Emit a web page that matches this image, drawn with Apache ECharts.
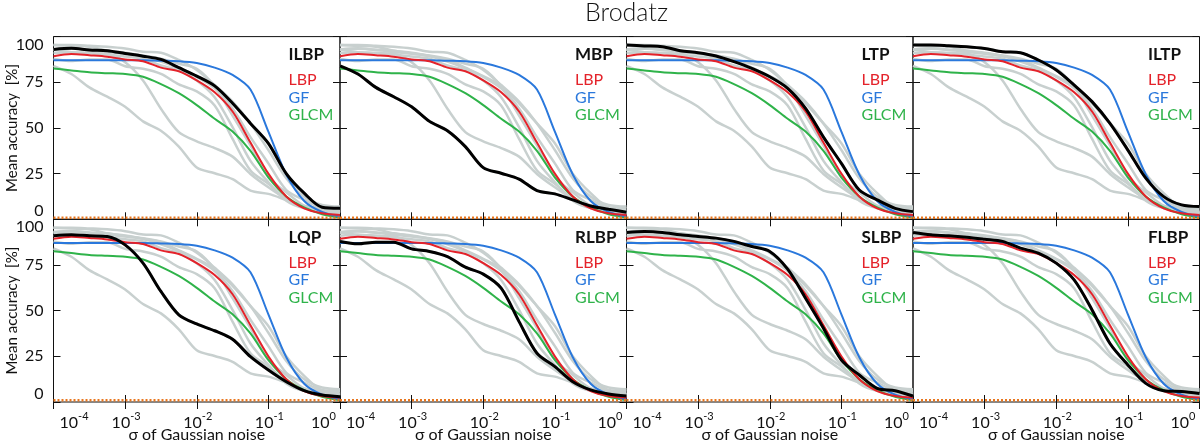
<!DOCTYPE html>
<html><head><meta charset="utf-8">
<script src="https://cdn.jsdelivr.net/npm/echarts@6/dist/echarts.min.js"></script>
<style>html,body{margin:0;padding:0;background:#fff}#c{width:1200px;height:441px}</style>
</head><body><div id="c"></div>
<script>
// sigma of Gaussian noise (x positions, log-spaced)
const sigma = [1e-4, 1.778e-4, 3.162e-4, 5.623e-4, 1e-3, 1.778e-3, 3.162e-3, 5.623e-3,
               1e-2, 1.778e-2, 3.162e-2, 5.623e-2, 1e-1, 0.1778, 0.3162, 0.5623, 1];
// reference methods (same in every panel)
const LBP  = [89.3, 90.5, 89.8, 89.0, 87.5, 86.5, 83.0, 81.0, 76.0, 69.5, 59.0, 42.0, 25.0, 12.5, 6.0, 3.3, 2.4];
const GF   = [87.0, 87.0, 87.0, 87.0, 87.0, 87.0, 86.8, 86.5, 85.5, 83.0, 79.0, 71.0, 48.0, 24.5, 10.0, 4.0, 1.5];
const GLCM = [82.5, 81.5, 80.5, 80.0, 79.5, 78.0, 74.0, 69.0, 62.5, 55.0, 48.0, 37.5, 23.0, 12.5, 6.5, 2.8, 1.0];
// highlighted methods
const ILBP = [93.0, 93.6, 92.7, 92.3, 90.8, 89.3, 87.5, 83.0, 78.4, 73.0, 63.5, 52.5, 41.6, 25.0, 14.3, 6.6, 6.0];
const MBP  = [84.0, 79.5, 72.2, 67.1, 61.6, 53.6, 48.5, 39.8, 28.3, 25.2, 22.0, 15.7, 13.9, 10.6, 7.3, 5.5, 3.9];
const LTP  = [95.4, 94.9, 94.5, 92.3, 91.2, 89.4, 86.3, 82.6, 78.0, 71.7, 60.7, 45.0, 30.6, 16.0, 10.6, 6.0, 4.2];
const ILTP = [95.4, 95.4, 95.0, 94.5, 93.5, 91.7, 91.2, 87.2, 81.7, 73.5, 64.4, 52.5, 37.9, 22.5, 12.4, 7.9, 7.0];
const LQP  = [91.0, 91.5, 91.0, 90.6, 86.0, 76.0, 60.5, 47.7, 42.7, 39.0, 34.3, 24.8, 17.5, 11.1, 6.2, 3.8, 2.9];
const RLBP = [87.9, 86.6, 87.5, 87.5, 83.8, 82.4, 79.6, 73.8, 70.0, 62.3, 44.0, 26.7, 19.4, 11.1, 6.6, 4.4, 3.3];
const SLBP = [92.8, 93.3, 92.8, 91.5, 90.6, 89.7, 87.9, 85.1, 82.4, 72.7, 56.8, 40.4, 23.0, 14.8, 7.5, 6.2, 3.3];
const FLBP = [92.8, 91.5, 91.0, 90.2, 89.1, 87.9, 84.2, 81.5, 76.0, 66.8, 50.4, 32.0, 20.3, 10.2, 6.2, 5.7, 4.7];
const panelNames  = ['ILBP', 'MBP', 'LTP', 'ILTP', 'LQP', 'RLBP', 'SLBP', 'FLBP'];
const panelValues = [ILBP, MBP, LTP, ILTP, LQP, RLBP, SLBP, FLBP];
const refNames  = ['LBP', 'GF', 'GLCM'];
const refValues = [LBP, GF, GLCM];
const yTicks = [0, 25, 50, 75, 100];
const chanceLevel = 0.9;

const FONT = 'Lato';
const INK = '#111';
const GRAY = '#c8d0cf';
const refColors = {LBP: '#e4222a', GF: '#2a78dc', GLCM: '#2fb34a'};
const L0 = 53.5, T0 = 36.6, PW = 286.5, PH = 182.7;

const chart = echarts.init(document.getElementById('c'), null, {renderer: 'canvas'});
const grids = [], xAxes = [], yAxes = [], series = [], graphics = [];

graphics.push({type: 'text', x: 626.5, y: 0, style: {text: 'Brodatz', fontFamily: FONT, fontWeight: 300,
  fontSize: 25, fill: INK, textAlign: 'center', textVerticalAlign: 'top'}});

const pts = arr => sigma.map((s, k) => [s, arr[k]]);

panelNames.forEach((name, i) => {
  const col = i % 4, row = Math.floor(i / 4);
  const left = L0 + col * PW, top = T0 + row * PH;
  grids.push({left, top, width: PW, height: PH, show: true, borderColor: INK, borderWidth: 1,
    backgroundColor: 'transparent', containLabel: false, outerBoundsMode: 'none'});
  const xBase = {gridIndex: i, type: 'log', logBase: 10, min: 1e-4, max: 1,
    axisLine: {show: false}, splitLine: {show: false}, minorTick: {show: false},
    axisTick: {show: true, inside: true, length: 7, lineStyle: {color: INK, width: 1}}};
  xAxes.push(Object.assign({}, xBase, {position: 'bottom',
    axisLabel: {show: row === 1, margin: 9, showMinLabel: true, showMaxLabel: true,
      alignMinLabel: 'left', alignMaxLabel: 'right', color: INK, padding: [0, 4, 0, 6],
      formatter: v => '{b|10}{s|' + Math.round(Math.log10(v)) + '}',
      rich: {b: {fontFamily: FONT, fontSize: 16, color: INK, lineHeight: 20, verticalAlign: 'bottom'},
             s: {fontFamily: FONT, fontSize: 11, color: INK, lineHeight: 11, verticalAlign: 'top'}}},
    name: row === 1 ? 'σ of Gaussian noise' : '', nameLocation: 'middle', nameGap: 25,
    nameMoveOverlap: false,
    nameTextStyle: {fontFamily: FONT, fontSize: 16, color: INK}}));
  xAxes.push(Object.assign({}, xBase, {position: 'top', axisLabel: {show: false}}));
  const yBase = {gridIndex: i, type: 'value', min: 0, max: 100, interval: 25,
    axisLine: {show: false}, splitLine: {show: false},
    axisTick: {show: true, inside: true, length: 7, lineStyle: {color: INK, width: 1}}};
  yAxes.push(Object.assign({}, yBase, {position: 'left',
    axisLabel: {show: col === 0, margin: 10, fontFamily: FONT, fontSize: 16, color: INK,
      showMinLabel: true, showMaxLabel: true,
      verticalAlignMinLabel: 'bottom', verticalAlignMaxLabel: 'top',
      formatter: v => yTicks.includes(v) ? String(v) : ''},
    name: col === 0 ? 'Mean accuracy  [%]' : '', nameLocation: 'middle', nameGap: 34, nameRotate: 90,
    nameMoveOverlap: false,
    nameTextStyle: {fontFamily: FONT, fontSize: 15, color: INK}}));
  yAxes.push(Object.assign({}, yBase, {position: 'right', axisLabel: {show: false}}));

  const xi = 2 * i, yi = 2 * i;
  const common = {type: 'line', xAxisIndex: xi, yAxisIndex: yi, showSymbol: false, symbol: 'none',
    smooth: 0.3, silent: true, animation: false, clip: true};
  panelValues.forEach(arr => series.push(Object.assign({}, common,
    {data: pts(arr), lineStyle: {color: GRAY, width: 2.5}})));
  [2, 1, 0].forEach(k => series.push(Object.assign({}, common,
    {data: pts(refValues[k]), lineStyle: {color: refColors[refNames[k]], width: 2}})));
  series.push(Object.assign({}, common, {data: pts(panelValues[i]), lineStyle: {color: '#000', width: 3}}));
  series.push(Object.assign({}, common, {smooth: false,
    data: [[sigma[0], chanceLevel], [sigma[sigma.length - 1], chanceLevel]],
    lineStyle: {color: '#e8761e', width: 2.5, type: [2, 2]}}));

  const tx = left + 235;
  graphics.push({type: 'text', x: tx, y: top + 18.4, style: {text: name, fontFamily: FONT, fontWeight: 'bold',
    fontSize: 17, fill: INK, textVerticalAlign: 'middle'}});
  refNames.forEach((rn, k) => graphics.push({type: 'text', x: tx, y: top + [43.4, 61, 78.4][k],
    style: {text: rn, fontFamily: FONT, fontSize: 16, fill: refColors[rn], textVerticalAlign: 'middle'}}));
});

chart.setOption({backgroundColor: '#fff', animation: false, grid: grids, xAxis: xAxes, yAxis: yAxes,
  series, graphic: graphics});
</script></body></html>
